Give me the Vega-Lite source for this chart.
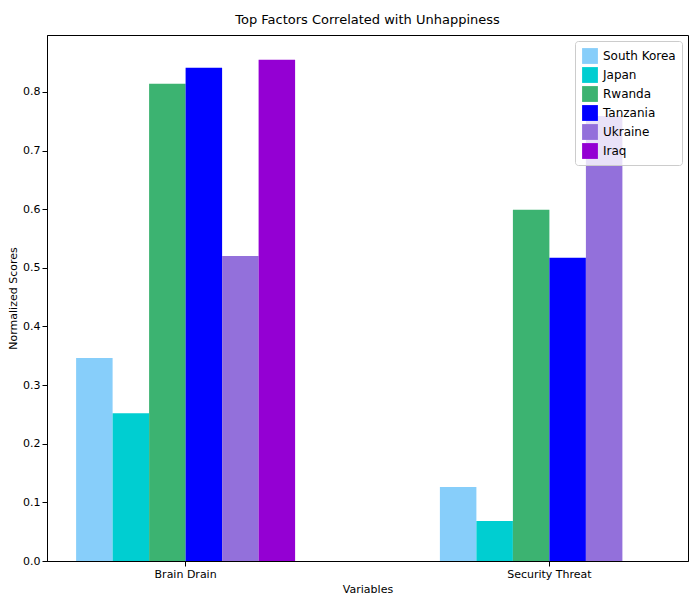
{
"$schema":"https://vega.github.io/schema/vega-lite/v6.json",
"width":641,"height":526,"autosize":"none",
"padding":{"left":47,"top":35,"right":12,"bottom":39},
"background":"white",
"title":{"text":"Top Factors Correlated with Unhappiness","font":"DejaVu Sans","fontSize":13,"fontWeight":"normal","offset":8},
"config":{"font":"DejaVu Sans","view":{"stroke":"black"},"axis":{"labelFont":"DejaVu Sans","titleFont":"DejaVu Sans","labelFontSize":11,"titleFontSize":11,"titleFontWeight":"normal","grid":false,"domainColor":"black","tickColor":"black","labelColor":"black"}},
"data":{"values":[
{"v":"Brain Drain","c":"South Korea","s":0.346},
{"v":"Brain Drain","c":"Japan","s":0.252},
{"v":"Brain Drain","c":"Rwanda","s":0.814},
{"v":"Brain Drain","c":"Tanzania","s":0.841},
{"v":"Brain Drain","c":"Ukraine","s":0.520},
{"v":"Brain Drain","c":"Iraq","s":0.855},
{"v":"Security Threat","c":"South Korea","s":0.126},
{"v":"Security Threat","c":"Japan","s":0.068},
{"v":"Security Threat","c":"Rwanda","s":0.599},
{"v":"Security Threat","c":"Tanzania","s":0.517},
{"v":"Security Threat","c":"Ukraine","s":0.759}
]},
"mark":{"type":"bar"},
"encoding":{
"x":{"field":"v","type":"nominal","title":"Variables","scale":{"paddingInner":0.398,"paddingOuter":0.08},"axis":{"labelAngle":0,"titlePadding":4}},
"xOffset":{"field":"c","type":"nominal","sort":["South Korea","Japan","Rwanda","Tanzania","Ukraine","Iraq"],"scale":{"domain":["South Korea","Japan","Rwanda","Tanzania","Ukraine","Iraq"],"paddingInner":0,"paddingOuter":0}},
"y":{"field":"s","type":"quantitative","title":"Normalized Scores","scale":{"domain":[0,0.897],"nice":false},"axis":{"values":[0,0.1,0.2,0.3,0.4,0.5,0.6,0.7,0.8],"format":".1f","titlePadding":4}},
"color":{"field":"c","type":"nominal","title":null,"scale":{"domain":["South Korea","Japan","Rwanda","Tanzania","Ukraine","Iraq"],"range":["#87CEFA","#00CED1","#3CB371","#0000FF","#9370DB","#9400D3"]},
"legend":{"orient":"top-right","symbolType":"square","symbolSize":250,"labelFontSize":12,"labelFont":"DejaVu Sans","fillColor":"rgba(255,255,255,0.8)","strokeColor":"#cccccc","padding":6,"cornerRadius":3,"offset":6}}
}
}
